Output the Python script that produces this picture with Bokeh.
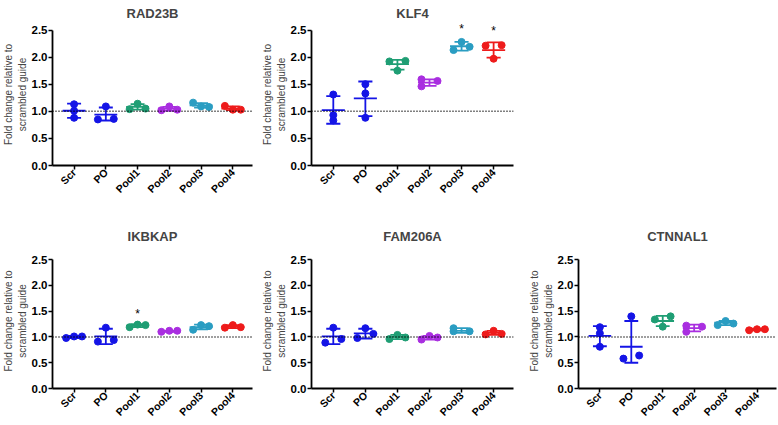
import numpy as np
from bokeh.plotting import figure
from bokeh.models import Range1d, FixedTicker, Span, PrintfTickFormatter
from bokeh.layouts import row, column
from bokeh.embed import file_html
from bokeh.resources import INLINE
from bokeh.core.properties import value

categories = ["Scr", "PO", "Pool1", "Pool2", "Pool3", "Pool4"]
group_colors = ["#1414e6", "#1414e6", "#1f9e74", "#a92ee0", "#2a9dc2", "#ee1b1b"]
y_ticks = [0.0, 0.5, 1.0, 1.5, 2.0, 2.5]
y_label = "Fold change relative to\nscrambled guide"

# ---- RAD23B ----
rad23b_points = [[1.13, 1.01, 0.88], [1.09, 0.85, 0.86], [1.14, 1.04, 1.05],
                 [1.09, 1.02, 1.03], [1.16, 1.09, 1.08], [1.10, 1.03, 1.03]]
rad23b_offsets = [[0, 0, 0], [0, -0.25, 0.25], [0, -0.25, 0.25],
                  [0, -0.25, 0.25], [-0.25, 0, 0.25], [-0.25, 0, 0.25]]
rad23b_mean = [1.01, 0.94, 1.08, 1.05, 1.11, 1.05]
rad23b_lo = [0.88, 0.83, 1.03, 1.01, 1.07, 1.02]
rad23b_hi = [1.14, 1.07, 1.13, 1.08, 1.15, 1.09]
rad23b_stars = []

# ---- KLF4 ----
klf4_points = [[1.31, 0.93, 0.83], [1.50, 1.33, 0.88], [1.92, 1.93, 1.75],
               [1.59, 1.46, 1.56], [2.28, 2.13, 2.19], [2.21, 2.22, 1.97]]
klf4_offsets = [[0, 0, 0], [0, 0, 0], [-0.25, 0.25, 0],
                [-0.25, -0.25, 0.25], [0, -0.25, 0.25], [-0.25, 0.25, 0]]
klf4_mean = [1.02, 1.24, 1.87, 1.53, 2.20, 2.13]
klf4_lo = [0.77, 0.91, 1.77, 1.47, 2.12, 1.99]
klf4_hi = [1.28, 1.55, 1.95, 1.59, 2.28, 2.27]
klf4_stars = [(4, 2.57), (5, 2.53)]

# ---- IKBKAP ----
ikbkap_points = [[0.98, 1.01, 1.01], [1.18, 0.91, 0.94], [1.19, 1.24, 1.23],
                 [1.10, 1.12, 1.12], [1.14, 1.23, 1.21], [1.18, 1.23, 1.19]]
ikbkap_offsets = [[-0.25, 0, 0.25], [0, -0.25, 0.25], [-0.25, 0, 0.25],
                  [-0.25, 0, 0.25], [-0.25, 0, 0.25], [-0.25, 0, 0.25]]
ikbkap_mean = [1.00, 1.01, 1.22, 1.11, 1.19, 1.20]
ikbkap_lo = [0.98, 0.86, 1.19, 1.10, 1.15, 1.17]
ikbkap_hi = [1.02, 1.16, 1.25, 1.12, 1.24, 1.23]
ikbkap_stars = [(2, 1.51)]

# ---- FAM206A ----
fam206a_points = [[1.18, 0.89, 0.96], [1.17, 0.98, 1.06], [0.96, 1.04, 0.99],
                  [0.95, 1.02, 0.99], [1.17, 1.11, 1.11], [1.05, 1.12, 1.06]]
fam206a_offsets = [[0, -0.25, 0.25], [0, -0.25, 0.25], [-0.25, 0, 0.25],
                   [-0.25, 0, 0.25], [-0.25, -0.25, 0.25], [-0.25, 0, 0.25]]
fam206a_mean = [1.01, 1.07, 1.00, 0.99, 1.12, 1.08]
fam206a_lo = [0.86, 0.97, 0.96, 0.95, 1.08, 1.04]
fam206a_hi = [1.16, 1.16, 1.04, 1.02, 1.17, 1.12]
fam206a_stars = []

# ---- CTNNAL1 ----
ctnnal1_points = [[1.19, 1.07, 0.81], [1.40, 0.58, 0.64], [1.34, 1.40, 1.20],
                  [1.22, 1.10, 1.20], [1.23, 1.31, 1.26], [1.13, 1.15, 1.15]]
ctnnal1_offsets = [[0, 0, 0], [0, -0.25, 0.25], [-0.25, 0.25, 0],
                   [-0.25, -0.25, 0.25], [-0.25, 0, 0.25], [-0.25, 0, 0.25]]
ctnnal1_mean = [1.02, 0.81, 1.31, 1.17, 1.28, 1.14]
ctnnal1_lo = [0.82, 0.50, 1.21, 1.11, 1.23, 1.13]
ctnnal1_hi = [1.21, 1.31, 1.41, 1.24, 1.31, 1.16]
ctnnal1_stars = []

FONT = "Liberation Sans"


def make_panel(title, pts, offs, mean, lo, hi, stars, width, height,
               b_left, b_right, b_top, b_bottom, title_standoff):
    p = figure(width=width, height=height, output_backend="svg", toolbar_location=None,
               x_range=Range1d(-0.68, 5.62), y_range=Range1d(0, 2.62),
               min_border_left=b_left, min_border_right=b_right,
               min_border_top=b_top, min_border_bottom=b_bottom,
               title=title)
    p.outline_line_color = None
    p.xgrid.visible = False
    p.ygrid.visible = False
    p.background_fill_color = "white"
    p.border_fill_color = "white"
    p.title.align = "center"
    p.title.text_font = FONT
    p.title.text_font_size = "13px"
    p.title.text_font_style = "bold"
    p.title.standoff = title_standoff

    idx = list(range(len(categories)))
    # axes
    p.xaxis.ticker = FixedTicker(ticks=idx)
    p.xaxis.major_label_overrides = {i: c for i, c in zip(idx, categories)}
    p.xaxis.major_label_orientation = np.pi / 4
    p.xaxis.major_label_text_font = FONT
    p.xaxis.major_label_text_font_style = "bold"
    p.xaxis.major_label_text_font_size = "10.5px"
    p.xaxis.major_label_standoff = 1
    p.yaxis.ticker = FixedTicker(ticks=y_ticks)
    p.yaxis.formatter = PrintfTickFormatter(format="%.1f")
    p.yaxis.bounds = (0, 2.5)
    p.yaxis.major_label_text_font = FONT
    p.yaxis.major_label_text_font_style = "bold"
    p.yaxis.major_label_text_font_size = "11.5px"
    p.yaxis.major_label_standoff = 1
    p.yaxis.axis_label = y_label
    p.yaxis.axis_label_text_font = FONT
    p.yaxis.axis_label_text_font_style = "normal"
    p.yaxis.axis_label_text_font_size = "10px"
    p.yaxis.axis_label_standoff = 1
    for ax in (p.xaxis, p.yaxis):
        ax.axis_line_width = 1.8
        ax.axis_line_color = "black"
        ax.major_tick_line_width = 1.5
        ax.major_tick_out = 4
        ax.major_tick_in = 0
        ax.minor_tick_line_color = None
        ax.major_label_text_color = "black"

    p.add_layout(Span(location=1.0, dimension="width", line_color="black",
                      line_dash="1 2", line_width=1.5))

    for i in idx:
        col = group_colors[i]
        # error bar: mean with SD whiskers
        p.segment(x0=[i], y0=[lo[i]], x1=[i], y1=[hi[i]], line_color=col, line_width=1.8)
        p.segment(x0=[i - 0.22, i - 0.22], y0=[lo[i], hi[i]], x1=[i + 0.22, i + 0.22],
                  y1=[lo[i], hi[i]], line_color=col, line_width=1.8)
        p.segment(x0=[i - 0.36], y0=[mean[i]], x1=[i + 0.36], y1=[mean[i]],
                  line_color=col, line_width=1.8)
        xs = [i + o for o in offs[i]]
        p.scatter(x=xs, y=pts[i], size=7, fill_color=col, line_color=col)

    if stars:
        p.text(x=[s[0] for s in stars], y=[s[1] for s in stars], text=["*"] * len(stars),
               text_align="center", text_baseline="middle", y_offset=3,
               text_font_size="12px", text_font=value(FONT), text_color="black")
    return p


# row 1 (RAD23B, KLF4) and row 2 (IKBKAP, FAM206A, CTNNAL1)
f1 = make_panel("RAD23B", rad23b_points, rad23b_offsets, rad23b_mean, rad23b_lo, rad23b_hi,
                rad23b_stars, 259, 217, 46, 7, 21, 52, 6)
f2 = make_panel("KLF4", klf4_points, klf4_offsets, klf4_mean, klf4_lo, klf4_hi,
                klf4_stars, 267, 217, 46, 13, 21, 52, 6)
f3 = make_panel("IKBKAP", ikbkap_points, ikbkap_offsets, ikbkap_mean, ikbkap_lo, ikbkap_hi,
                ikbkap_stars, 259, 208, 46, 7, 35, 32, 19)
f4 = make_panel("FAM206A", fam206a_points, fam206a_offsets, fam206a_mean, fam206a_lo, fam206a_hi,
                fam206a_stars, 267, 208, 46, 13, 35, 32, 19)
f5 = make_panel("CTNNAL1", ctnnal1_points, ctnnal1_offsets, ctnnal1_mean, ctnnal1_lo, ctnnal1_hi,
                ctnnal1_stars, 251, 208, 46, 1, 35, 32, 19)

layout = column(row(f1, f2), row(f3, f4, f5))
open("out.html", "w").write(file_html(layout, INLINE))
